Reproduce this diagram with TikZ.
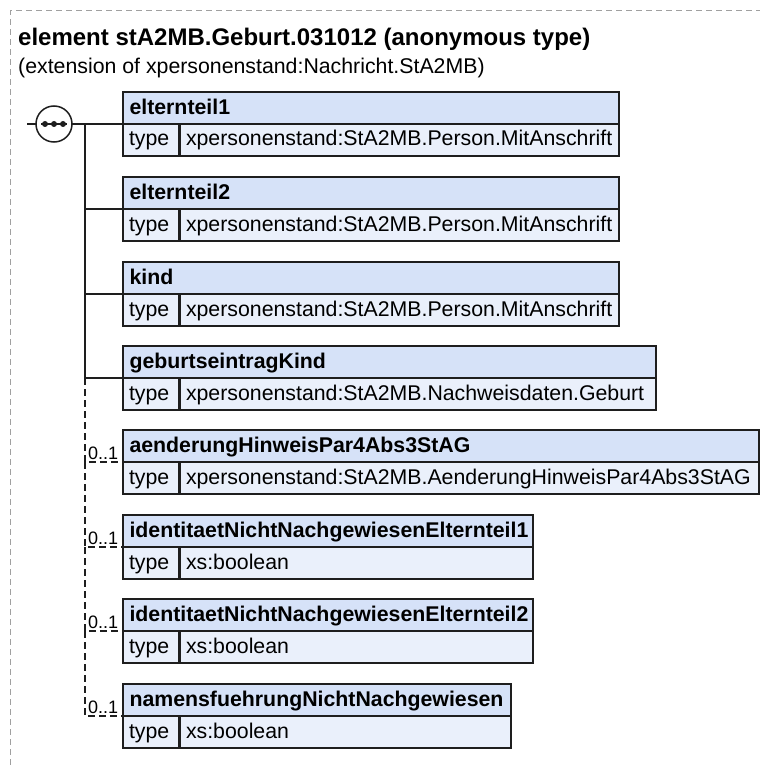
\documentclass[tikz,border=0pt]{standalone}
\usepackage{fontspec}
\setmainfont{Liberation Sans}
\definecolor{hdrc}{RGB}{214,226,248}
\definecolor{typc}{RGB}{234,240,251}
\definecolor{bordc}{RGB}{30,30,30}
\definecolor{framec}{RGB}{160,160,160}
\tikzset{
  boxhdr/.style={draw=bordc, fill=hdrc, line width=1.5pt, anchor=north west,
    minimum height=32pt, inner ysep=0pt, inner xsep=6.5pt, outer sep=0pt, align=left,
    text height=16pt, text depth=4pt,
    font=\fontsize{21.3}{24}\selectfont\bfseries},
  boxtyp/.style={draw=bordc, fill=typc, line width=1.5pt, anchor=north west,
    minimum height=32pt, inner ysep=0pt, inner xsep=6pt, outer sep=0pt, align=left,
    text height=16pt, text depth=4pt,
    font=\fontsize{21.3}{24}\selectfont},
  conn/.style={draw=bordc, line width=1.5pt},
  optconn/.style={draw=bordc, line width=1.5pt, dash pattern=on 7pt off 4pt},
  optlab/.style={anchor=base west, inner sep=0pt, font=\fontsize{18}{20}\selectfont},
  framel/.style={draw=framec, line width=1pt, dash pattern=on 6pt off 4pt},
}
\newcommand{\xsdbox}[5]{%
  \pgfmathsetmacro{\hw}{#3-123-13}%
  \pgfmathsetmacro{\vw}{#3-180-12}%
  \node[boxhdr, text width=\hw pt] (h#1) at (123,#2) {#4};
  \node[boxtyp, text width=44pt] (t#1) at (123,#2+32) {type};
  \node[boxtyp, text width=\vw pt] (v#1) at (180,#2+32) {#5};
}
\begin{document}
\begin{tikzpicture}[x=1pt,y=-1pt]
\useasboundingbox (0,0) rectangle (760,765);
% frame
\draw[framel] (10,765) -- (10,11) -- (760,11);
% title
\node[anchor=base west, inner sep=0pt, font=\fontsize{24}{28}\selectfont\bfseries] (title) at (18,46) {element stA2MB.Geburt.031012 (anonymous type)};
\node[anchor=base west, inner sep=0pt, font=\fontsize{21.3}{24}\selectfont] (subtitle) at (18,74) {(extension of xpersonenstand:Nachricht.StA2MB)};
% boxes
\xsdbox{1}{92}{619}{elternteil1}{xpersonenstand:StA2MB.Person.MitAnschrift}
\xsdbox{2}{177}{619}{elternteil2}{xpersonenstand:StA2MB.Person.MitAnschrift}
\xsdbox{3}{262}{619}{kind}{xpersonenstand:StA2MB.Person.MitAnschrift}
\xsdbox{4}{346}{656}{geburtseintragKind}{xpersonenstand:StA2MB.Nachweisdaten.Geburt}
\xsdbox{5}{430}{759}{aenderungHinweisPar4Abs3StAG}{xpersonenstand:StA2MB.AenderungHinweisPar4Abs3StAG}
\xsdbox{6}{515}{533}{identitaetNichtNachgewiesenElternteil1}{xs:boolean}
\xsdbox{7}{599}{533}{identitaetNichtNachgewiesenElternteil2}{xs:boolean}
\xsdbox{8}{684}{511}{namensfuehrungNichtNachgewiesen}{xs:boolean}
% sequence symbol
\node[draw=bordc, circle, minimum size=36pt, inner sep=0pt, outer sep=0pt, line width=1.5pt, fill=white] (seq) at (54,124) {};
\draw[bordc, line width=1.5pt] (41,124) -- (67,124);
\foreach \dx in {45,54,63} \fill[bordc] (\dx,124) circle (3pt);
% connectors
\coordinate (in) at (27,124);
\coordinate (j1) at (85,124);
\coordinate (j4) at (85,378);
\coordinate (j5) at (85,462);
\coordinate (j6) at (85,547);
\coordinate (j7) at (85,631);
\draw[conn] (in) -- (seq.west);
\draw[conn] (seq.east) -- (h1.south west);
\draw[conn] (j1) |- (h2.south west);
\draw[conn] (j1) |- (h3.south west);
\draw[conn] (j1) |- (h4.south west);
\draw[optconn] (j4) |- (h5.south west);
\draw[optconn] (j5) |- (h6.south west);
\draw[optconn] (j6) |- (h7.south west);
\draw[optconn] (j7) |- (h8.south west);
% cardinalities
\node[optlab] (o5) at (88,459) {0..1};
\node[optlab] (o6) at (88,544) {0..1};
\node[optlab] (o7) at (88,628) {0..1};
\node[optlab] (o8) at (88,713) {0..1};
\end{tikzpicture}
\end{document}
